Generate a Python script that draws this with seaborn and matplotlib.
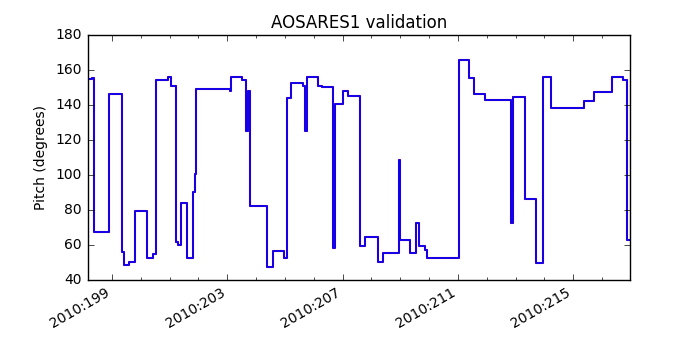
import numpy as np
import pandas as pd
import seaborn as sns
import matplotlib
matplotlib.use('Agg')
import matplotlib.pyplot as plt
from matplotlib.ticker import MultipleLocator, FixedLocator, FuncFormatter

# day of year 2010 where the pitch changes, and the pitch held from that time on
day = [198.14, 198.29, 198.38, 198.89, 199.36, 199.41, 199.59, 199.80, 200.22, 200.42,
       200.51, 200.95, 201.03, 201.23, 201.30, 201.40, 201.61, 201.82, 201.87, 201.92,
       203.08, 203.12, 203.52, 203.64, 203.73, 203.78, 204.39, 204.60, 204.97, 205.08,
       205.20, 205.61, 205.69, 205.78, 206.16, 206.28, 206.68, 206.72, 207.02, 207.20,
       207.60, 207.78, 208.24, 208.41, 208.96, 209.00, 209.33, 209.54, 209.66, 209.86,
       209.92, 211.05, 211.39, 211.57, 211.94, 212.84, 212.92, 213.33, 213.71, 213.96,
       214.23, 215.36, 215.73, 216.33, 216.74, 216.86, 216.97]
pitch = [154.9, 155.6, 67.6, 146.3, 56.2, 48.6, 50.1, 79.6, 52.4, 54.7,
         154.3, 156.2, 151.0, 61.5, 60.0, 84.2, 52.4, 90.1, 100.6, 149.0,
         148.0, 155.8, 154.3, 125.3, 148.2, 82.5, 47.6, 56.8, 52.8, 144.2,
         152.4, 151.0, 125.1, 155.8, 151.0, 150.5, 58.1, 140.6, 148.2, 145.3,
         59.6, 64.8, 50.5, 55.6, 108.6, 62.9, 55.6, 72.8, 59.4, 57.1,
         52.8, 165.7, 155.6, 146.1, 142.9, 72.4, 144.8, 86.3, 49.5, 155.8,
         138.5, 142.5, 147.6, 156.2, 154.3, 62.9, 62.9]
# telemetry (red) and model (blue) agree to within the line width
telem = pitch
model = pitch
tick_days = [199, 203, 207, 211, 215]

df = pd.DataFrame({'day': day, 'telem': telem, 'model': model})

plt.style.use('classic')
fig, ax = plt.subplots(figsize=(7, 3.5), dpi=100)
fig.patch.set_facecolor('white')

sns.lineplot(data=df, x='day', y='telem', ax=ax, color='r', lw=1.5,
             drawstyle='steps-post', estimator=None, sort=False)
sns.lineplot(data=df, x='day', y='model', ax=ax, color='b', lw=1.3,
             drawstyle='steps-post', estimator=None, sort=False)

ax.set_xlim(198.15, 216.97)
ax.set_ylim(40, 180)
ax.xaxis.set_major_locator(FixedLocator(tick_days))
ax.xaxis.set_minor_locator(MultipleLocator(1))
ax.xaxis.set_major_formatter(FuncFormatter(lambda v, p: '2010:%d' % round(v)))
ax.yaxis.set_major_locator(MultipleLocator(20))
ax.tick_params(labelsize=10)
ax.set_xlabel('')
ax.set_ylabel('Pitch (degrees)', fontsize=10)
ax.set_title('AOSARES1 validation', fontsize=12)

fig.subplots_adjust(left=0.125, right=0.9, top=0.9, bottom=0.2)
for lab in ax.get_xticklabels():
    lab.set_rotation(30)
    lab.set_ha('right')

fig.savefig('out.png', dpi=100, facecolor='white')
